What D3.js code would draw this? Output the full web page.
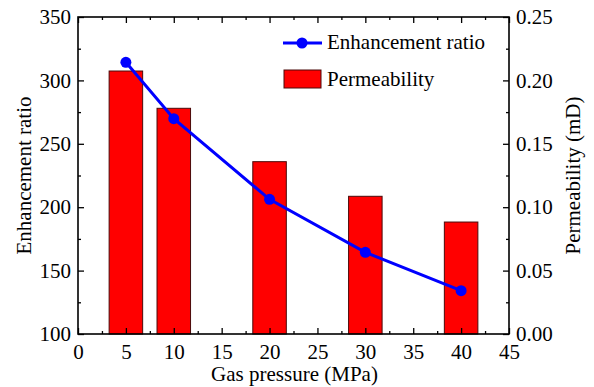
<!DOCTYPE html>
<html><head><meta charset="utf-8">
<script src="https://cdn.jsdelivr.net/npm/d3@7"></script>
<style>body{margin:0;background:#fff}svg{display:block}</style>
</head><body><svg id="c" width="594" height="387"></svg>
<script>
const pressures = [5, 10, 20, 30, 40];
const enhancementRatio = [314.3, 269.8, 206.2, 164.4, 134.2];
const permeability = [0.2074, 0.178, 0.1359, 0.1086, 0.0883];
const xTicks = [0,5,10,15,20,25,30,35,40,45];
const yLeftTicks = [100,150,200,250,300,350];
const yRightTicks = [0,0.05,0.10,0.15,0.20,0.25];

const svg = d3.select("#c");
const L=78, R=509, T=17, B=334;
const x = d3.scaleLinear().domain([0,45]).range([L,R]);
const yL = d3.scaleLinear().domain([100,350]).range([B,T]);
const yR = d3.scaleLinear().domain([0,0.25]).range([B,T]);
const barW = 3.5;
const FF = '"Liberation Serif","Times New Roman",Times,serif';
const fs = 21;

svg.append("g").selectAll("rect").data(pressures).join("rect")
  .attr("x", d=>x(d-barW/2)).attr("width", d=>x(d+barW/2)-x(d-barW/2))
  .attr("y", (d,i)=>yR(permeability[i])).attr("height",(d,i)=>B-yR(permeability[i]))
  .attr("fill","#ff0000").attr("stroke","#4a0a0a").attr("stroke-width",1);

const line = d3.line().x((d,i)=>x(pressures[i])).y(d=>yL(d));
svg.append("path").datum(enhancementRatio).attr("d",line).attr("fill","none")
  .attr("stroke","#0000ff").attr("stroke-width",3);
svg.append("g").selectAll("circle").data(enhancementRatio).join("circle")
  .attr("cx",(d,i)=>x(pressures[i])).attr("cy",d=>yL(d)).attr("r",5.5).attr("fill","#0000ff");

function minor(arr){const out=[];for(let i=0;i<arr.length-1;i++)out.push((arr[i]+arr[i+1])/2);return out;}
const gB = svg.append("g").attr("transform",`translate(0,${B})`)
  .call(d3.axisBottom(x).tickValues(xTicks).tickSize(-6).tickPadding(10).tickFormat(d3.format("d")));
const gBm = svg.append("g").attr("transform",`translate(0,${B})`)
  .call(d3.axisBottom(x).tickValues(minor(xTicks)).tickSize(-3).tickFormat(""));
const gT = svg.append("g").attr("transform",`translate(0,${T})`)
  .call(d3.axisTop(x).tickValues(xTicks).tickSize(-6).tickFormat(""));
const gTm = svg.append("g").attr("transform",`translate(0,${T})`)
  .call(d3.axisTop(x).tickValues(minor(xTicks)).tickSize(-3).tickFormat(""));
const gL = svg.append("g").attr("transform",`translate(${L},0)`)
  .call(d3.axisLeft(yL).tickValues(yLeftTicks).tickSize(-6).tickPadding(7).tickFormat(d3.format("d")));
const gLm = svg.append("g").attr("transform",`translate(${L},0)`)
  .call(d3.axisLeft(yL).tickValues(minor(yLeftTicks)).tickSize(-3).tickFormat(""));
const gR = svg.append("g").attr("transform",`translate(${R},0)`)
  .call(d3.axisRight(yR).tickValues(yRightTicks).tickSize(-6).tickPadding(7).tickFormat(d3.format(".2f")));
const gRm = svg.append("g").attr("transform",`translate(${R},0)`)
  .call(d3.axisRight(yR).tickValues(minor(yRightTicks)).tickSize(-3).tickFormat(""));
[gB,gBm,gT,gTm,gL,gLm,gR,gRm].forEach(g=>{
  g.attr("font-family",FF).attr("font-size",fs);
  g.selectAll(".tick line").attr("stroke","#000").attr("stroke-width",1.3);
  g.selectAll("text").style("font-family",FF).style("font-size",fs+"px").attr("fill","#000");
  g.selectAll(".domain").remove();
});
svg.append("rect").attr("x",L).attr("y",T).attr("width",R-L).attr("height",B-T)
  .attr("fill","none").attr("stroke","#000").attr("stroke-width",1.6);

function txt(sel){return sel.style("font-family",FF).style("font-size",fs+"px").attr("fill","#000");}
txt(svg.append("text").attr("x",(L+R)/2+1).attr("y",381).attr("text-anchor","middle")).text("Gas pressure (MPa)");
txt(svg.append("text").attr("transform",`translate(31,${(T+B)/2}) rotate(-90)`).attr("text-anchor","middle")).text("Enhancement ratio");
txt(svg.append("text").attr("transform",`translate(580,${(T+B)/2}) rotate(-90)`).attr("text-anchor","middle")).text("Permeability (mD)");

const lg = svg.append("g");
lg.append("line").attr("x1",283).attr("x2",322).attr("y1",43).attr("y2",43).attr("stroke","#0000ff").attr("stroke-width",3);
lg.append("circle").attr("cx",302).attr("cy",43).attr("r",5.5).attr("fill","#0000ff");
txt(lg.append("text").attr("x",327).attr("y",49)).text("Enhancement ratio");
lg.append("rect").attr("x",284).attr("y",70).attr("width",37).attr("height",18).attr("fill","#ff0000").attr("stroke","#4a0a0a").attr("stroke-width",1);
txt(lg.append("text").attr("x",327).attr("y",86)).text("Permeability");
</script></body></html>
